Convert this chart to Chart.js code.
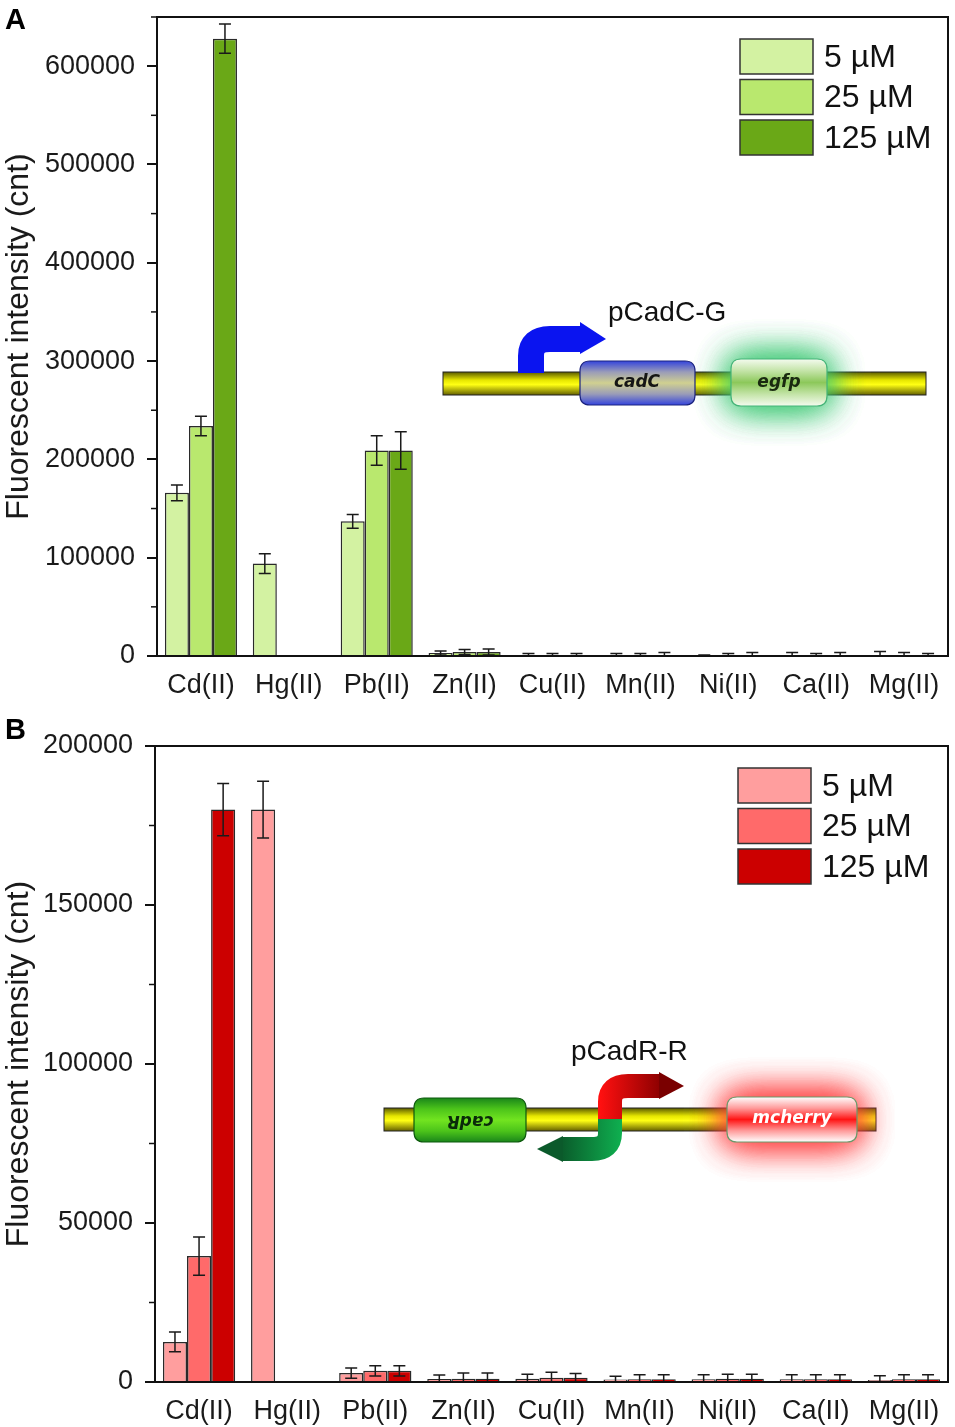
<!DOCTYPE html>
<html>
<head>
<meta charset="utf-8">
<script src="https://cdn.jsdelivr.net/npm/chart.js@4.4.1/dist/chart.umd.min.js"></script>
<style>
html, body { margin: 0; padding: 0; background: #fff; }
.wrap { position: absolute; left: 0; width: 955px; }
</style>
</head>
<body>
<div class="wrap" style="top:0;height:712px"><canvas id="chartA" width="955" height="712"></canvas></div>
<div class="wrap" style="top:712px;height:715px"><canvas id="chartB" width="955" height="715"></canvas></div>
<script>
const metals = ['Cd(II)', 'Hg(II)', 'Pb(II)', 'Zn(II)', 'Cu(II)', 'Mn(II)', 'Ni(II)', 'Ca(II)', 'Mg(II)'];
const doses = ['5 µM', '25 µM', '125 µM'];

// panel A - pCadC-G (egfp)
const gfp5 = [166000, 94000, 137000, 3000, 1000, 1000, 800, 1000, 1000];
const gfp25 = [234000, null, 209000, 4000, 1000, 1000, 1000, 1000, 1000];
const gfp125 = [628000, null, 209000, 4000, 1000, 1000, 1000, 1000, 1000];
const gfp5Err = [8000, 10000, 7000, 2000, 1500, 1500, 300, 2500, 3500];
const gfp25Err = [10000, null, 15000, 2500, 1500, 1500, 1500, 1500, 2500];
const gfp125Err = [15000, null, 19000, 3000, 1500, 2500, 2500, 2500, 1500];
const gfpTicks = [0, 100000, 200000, 300000, 400000, 500000, 600000];
const gfpMinor = [50000, 150000, 250000, 350000, 450000, 550000, 650000];
const gfpMax = 650000;

// panel B - pCadR-R (mcherry)
const rfp5 = [12600, 180000, 2800, 950, 1000, 800, 900, 900, 600];
const rfp25 = [39600, null, 3500, 1000, 1300, 900, 1000, 900, 900];
const rfp125 = [180000, null, 3500, 1000, 1300, 900, 1000, 900, 900];
const rfp5Err = [3100, 8900, 1600, 1250, 1400, 1000, 1400, 1400, 1400];
const rfp25Err = [6000, null, 1600, 1800, 1800, 1400, 1400, 1400, 1400];
const rfp125Err = [8200, null, 1600, 1800, 1400, 1400, 1400, 1400, 1400];
const rfpTicks = [0, 50000, 100000, 150000, 200000];
const rfpMinor = [25000, 75000, 125000, 175000];
const rfpMax = 200000;

const FONT = '"Liberation Sans", Arial, sans-serif';

function rrect(ctx, x, y, w, h, r) {
  ctx.beginPath();
  ctx.moveTo(x + r, y);
  ctx.lineTo(x + w - r, y);
  ctx.quadraticCurveTo(x + w, y, x + w, y + r);
  ctx.lineTo(x + w, y + h - r);
  ctx.quadraticCurveTo(x + w, y + h, x + w - r, y + h);
  ctx.lineTo(x + r, y + h);
  ctx.quadraticCurveTo(x, y + h, x, y + h - r);
  ctx.lineTo(x, y + r);
  ctx.quadraticCurveTo(x, y, x + r, y);
  ctx.closePath();
}

function dnaBar(ctx, x0, x1, y0, y1) {
  const g = ctx.createLinearGradient(0, y0, 0, y1);
  g.addColorStop(0, '#5a5a00');
  g.addColorStop(0.35, '#e6e600');
  g.addColorStop(0.55, '#ffff14');
  g.addColorStop(1, '#646000');
  ctx.fillStyle = g;
  ctx.fillRect(x0, y0, x1 - x0, y1 - y0);
  ctx.strokeStyle = '#222';
  ctx.lineWidth = 1;
  ctx.strokeRect(x0, y0, x1 - x0, y1 - y0);
}

function gene(ctx, x, y, w, h, stops, border, glow) {
  if (glow) {
    // soft halo: shape drawn off canvas, only its shadow lands here
    ctx.save();
    ctx.shadowColor = glow;
    ctx.shadowBlur = 36;
    ctx.shadowOffsetX = 5000;
    ctx.fillStyle = '#000';
    rrect(ctx, x - 5000, y, w, h, 10);
    ctx.fill();
    ctx.fill();
    ctx.fill();
    ctx.restore();
  }
  const g = ctx.createLinearGradient(0, y, 0, y + h);
  stops.forEach((c, i) => g.addColorStop(i / (stops.length - 1), c));
  ctx.fillStyle = g;
  rrect(ctx, x, y, w, h, 10);
  ctx.fill();
  ctx.strokeStyle = border;
  ctx.lineWidth = 1.2;
  ctx.stroke();
}

function geneLabel(ctx, text, cx, cy, color, flip) {
  ctx.save();
  ctx.translate(cx, cy);
  if (flip) ctx.rotate(Math.PI);
  ctx.font = 'italic bold 17px "DejaVu Sans", ' + FONT;
  ctx.fillStyle = color;
  ctx.textAlign = 'center';
  ctx.textBaseline = 'middle';
  ctx.fillText(text, 0, 0);
  ctx.restore();
}

function drawDiagramA(ctx) {
  dnaBar(ctx, 443, 926, 372, 395);
  gene(ctx, 731, 359, 96, 47, ['#f4fbef', '#c4e4a8', '#8cc85a', '#c4e4a8', '#f4fbef'], '#45b478', 'rgba(60,200,115,0.85)');
  geneLabel(ctx, 'egfp', 779, 383, '#1a2a10');
  gene(ctx, 580, 361, 115, 44, ['#3444dc', '#9a9cb8', '#d0d090', '#9a9cb8', '#3444dc'], '#1c2480');
  geneLabel(ctx, 'cadC', 637, 383, '#151515');
  // promoter arrow
  ctx.strokeStyle = '#0a14f0';
  ctx.lineWidth = 26;
  ctx.lineCap = 'butt';
  ctx.beginPath();
  ctx.moveTo(531, 373);
  ctx.lineTo(531, 356);
  ctx.quadraticCurveTo(531, 339, 550, 339);
  ctx.lineTo(582, 339);
  ctx.stroke();
  ctx.fillStyle = '#0a14f0';
  ctx.beginPath();
  ctx.moveTo(580, 322);
  ctx.lineTo(606, 339);
  ctx.lineTo(580, 354);
  ctx.closePath();
  ctx.fill();
  ctx.font = '28px ' + FONT;
  ctx.fillStyle = '#111';
  ctx.textAlign = 'left';
  ctx.textBaseline = 'middle';
  ctx.fillText('pCadC-G', 608, 313);
}

function drawDiagramB(ctx) {
  dnaBar(ctx, 384, 876, 1108, 1131);
  gene(ctx, 727, 1097, 130, 45, ['#ffffff', '#ff9a9a', '#ff1414', '#ff9a9a', '#ffffff'], '#6a9a6a', 'rgba(255,60,60,0.85)');
  geneLabel(ctx, 'mcherry', 792, 1119, '#ffffff');
  gene(ctx, 414, 1098, 112, 44, ['#1a861a', '#4cc41a', '#72e420', '#4cc41a', '#1a861a'], '#0d5a0d');
  geneLabel(ctx, 'cadR', 470, 1120, '#0a2a0a', true);
  // bidirectional promoter
  ctx.lineCap = 'butt';
  ctx.lineWidth = 24;
  let g = ctx.createLinearGradient(600, 0, 662, 0);
  g.addColorStop(0, '#ff1010');
  g.addColorStop(1, '#8a0000');
  ctx.strokeStyle = g;
  ctx.beginPath();
  ctx.moveTo(610, 1120);
  ctx.lineTo(610, 1102);
  ctx.quadraticCurveTo(610, 1086, 628, 1086);
  ctx.lineTo(661, 1086);
  ctx.stroke();
  ctx.fillStyle = '#7a0000';
  ctx.beginPath();
  ctx.moveTo(659, 1072);
  ctx.lineTo(684, 1086);
  ctx.lineTo(659, 1099);
  ctx.closePath();
  ctx.fill();
  g = ctx.createLinearGradient(622, 0, 560, 0);
  g.addColorStop(0, '#0fb050');
  g.addColorStop(1, '#0a5a2a');
  ctx.strokeStyle = g;
  ctx.beginPath();
  ctx.moveTo(610, 1119);
  ctx.lineTo(610, 1133);
  ctx.quadraticCurveTo(610, 1149, 592, 1149);
  ctx.lineTo(561, 1149);
  ctx.stroke();
  ctx.fillStyle = '#0b5a2b';
  ctx.beginPath();
  ctx.moveTo(563, 1136);
  ctx.lineTo(537, 1149);
  ctx.lineTo(563, 1162);
  ctx.closePath();
  ctx.fill();
  ctx.font = '28px ' + FONT;
  ctx.fillStyle = '#111';
  ctx.textAlign = 'left';
  ctx.textBaseline = 'middle';
  ctx.fillText('pCadR-R', 571, 1052);
}

const errorBars = {
  id: 'errorBars',
  afterDatasetsDraw(chart) {
    const ctx = chart.ctx;
    const y = chart.scales.y;
    const a = chart.chartArea;
    ctx.save();
    ctx.beginPath();
    ctx.rect(a.left, a.top - 2, a.right - a.left, a.bottom - a.top + 1);
    ctx.clip();
    ctx.strokeStyle = '#1a1a1a';
    ctx.lineWidth = 1.5;
    chart.data.datasets.forEach((ds, i) => {
      const meta = chart.getDatasetMeta(i);
      ds.data.forEach((v, j) => {
        const e = ds.err[j];
        if (v == null || e == null) return;
        const x = meta.data[j].x;
        const top = y.getPixelForValue(v + e);
        const bot = y.getPixelForValue(v - e);
        ctx.beginPath();
        ctx.moveTo(x, top); ctx.lineTo(x, bot);
        ctx.moveTo(x - 6, top); ctx.lineTo(x + 6, top);
        ctx.moveTo(x - 6, bot); ctx.lineTo(x + 6, bot);
        ctx.stroke();
      });
    });
    ctx.restore();
  }
};

const decorations = {
  id: 'decorations',
  afterDraw(chart, args, o) {
    const ctx = chart.ctx;
    const a = chart.chartArea;
    const y = chart.scales.y;
    ctx.save();
    // frame
    ctx.strokeStyle = '#111';
    ctx.lineWidth = 2;
    ctx.strokeRect(a.left, a.top, a.right - a.left, a.bottom - a.top);
    // minor ticks
    ctx.lineWidth = 1.5;
    o.minor.forEach(v => {
      const py = y.getPixelForValue(v);
      ctx.beginPath();
      ctx.moveTo(a.left - 6, py);
      ctx.lineTo(a.left, py);
      ctx.stroke();
    });
    // legend
    ctx.font = '32px ' + FONT;
    ctx.textAlign = 'left';
    ctx.textBaseline = 'middle';
    chart.data.datasets.forEach((ds, i) => {
      const by = o.legendTop + i * 40.5;
      ctx.fillStyle = ds.backgroundColor;
      ctx.fillRect(o.legendLeft, by, 73, 35);
      ctx.strokeStyle = '#333';
      ctx.lineWidth = 1.5;
      ctx.strokeRect(o.legendLeft, by, 73, 35);
      ctx.fillStyle = '#111';
      ctx.fillText(ds.label, o.legendLeft + 84, by + 19);
    });
    // panel letter
    ctx.font = 'bold 29px ' + FONT;
    ctx.fillStyle = '#000';
    ctx.textBaseline = 'alphabetic';
    ctx.fillText(o.letter, 5, o.letterY);
    // schematic, page coordinates
    ctx.translate(0, -o.pageTop);
    o.diagram(ctx);
    ctx.restore();
  }
};

function makeChart(id, values, errs, colors, ticks, minor, max, geo) {
  new Chart(document.getElementById(id), {
    type: 'bar',
    data: {
      labels: metals,
      datasets: values.map((d, i) => ({
        label: doses[i],
        data: d,
        err: errs[i],
        backgroundColor: colors[i],
        borderColor: '#2a2a2a',
        borderWidth: 1.5,
        categoryPercentage: 0.82,
        barPercentage: 1.0
      }))
    },
    options: {
      responsive: false,
      animation: false,
      devicePixelRatio: 1,
      layout: { padding: { top: geo.top, right: 7, left: 0, bottom: 0 } },
      plugins: {
        legend: { display: false },
        tooltip: { enabled: false },
        decorations: {
          minor: minor, letter: geo.letter, letterY: geo.letterY, pageTop: geo.pageTop,
          legendLeft: geo.legendLeft, legendTop: geo.legendTop, diagram: geo.diagram
        }
      },
      scales: {
        x: {
          grid: { display: false, drawTicks: false },
          border: { display: false },
          ticks: { font: { family: FONT, size: 27 }, color: '#1a1a1a', padding: 13, maxRotation: 0, autoSkip: false },
          afterFit: s => { s.height = geo.xHeight; s.paddingLeft = 0; s.paddingRight = 0; }
        },
        y: {
          min: 0,
          max: max,
          afterBuildTicks: s => { s.ticks = ticks.map(v => ({ value: v })); },
          ticks: { font: { family: FONT, size: 27 }, color: '#1a1a1a', padding: 12, callback: v => String(v) },
          grid: { drawOnChartArea: false, color: '#111', lineWidth: 2, tickLength: 10 },
          border: { display: false },
          title: { display: true, text: 'Fluorescent intensity (cnt)', font: { family: FONT, size: 32 }, color: '#1a1a1a', padding: { top: 0, bottom: 0 } },
          afterFit: s => { s.width = geo.yWidth; s.paddingTop = 0; s.paddingBottom = 0; }
        }
      }
    },
    plugins: [errorBars, decorations]
  });
}

makeChart('chartA', [gfp5, gfp25, gfp125], [gfp5Err, gfp25Err, gfp125Err],
  ['#d3f2a2', '#b9e86e', '#6aa817'], gfpTicks, gfpMinor, gfpMax,
  { top: 17, xHeight: 56, yWidth: 157, letter: 'A', letterY: 29, pageTop: 0,
    legendLeft: 740, legendTop: 39, diagram: drawDiagramA });

makeChart('chartB', [rfp5, rfp25, rfp125], [rfp5Err, rfp25Err, rfp125Err],
  ['#ff9e9e', '#ff6a6a', '#cc0000'], rfpTicks, rfpMinor, rfpMax,
  { top: 34, xHeight: 45, yWidth: 155, letter: 'B', letterY: 27, pageTop: 712,
    legendLeft: 738, legendTop: 768 - 712, diagram: drawDiagramB });
</script>
</body>
</html>
